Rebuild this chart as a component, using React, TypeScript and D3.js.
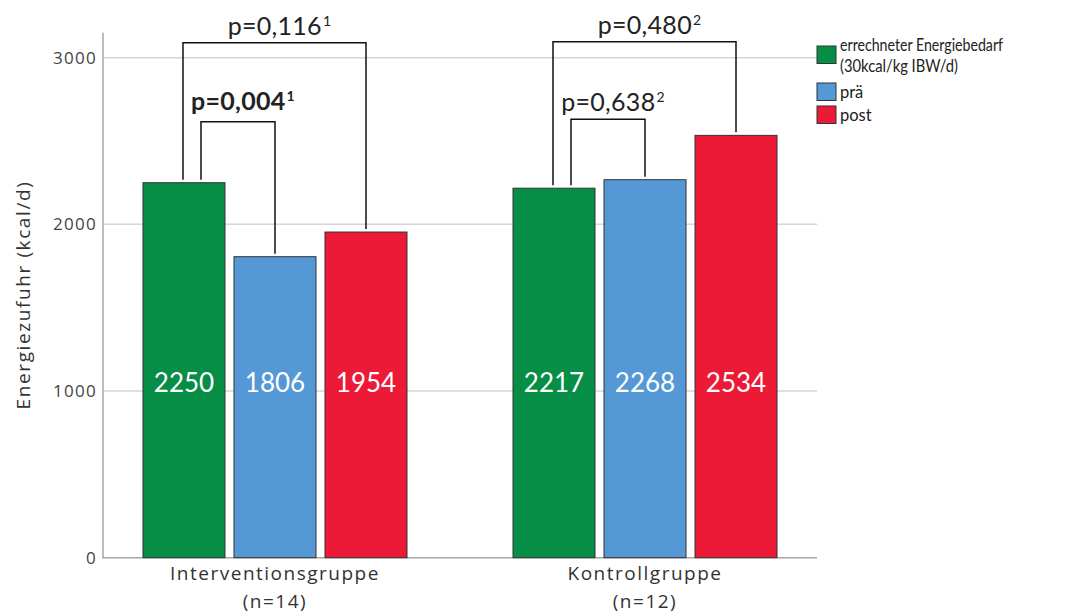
import React from "react";
import * as d3 from "d3";

const categories = ["Interventionsgruppe", "Kontrollgruppe"];
const categoryN = ["(n=14)", "(n=12)"];
const seriesNames = ["errechneter Energiebedarf", "prä", "post"];
const seriesSub = ["(30kcal/kg IBW/d)", "", ""];
const energiebedarf = [2250, 2217];
const prae = [1806, 2268];
const post = [1954, 2534];
const yTicks = [0, 1000, 2000, 3000];
const yTitle = "Energiezufuhr (kcal/d)";

// comparisons: group index, from series, to series, p-value text, superscript, bold
const compGroup = [0, 0, 1, 1];
const compFrom = [0, 0, 0, 0];
const compTo = [2, 1, 2, 1];
const compLabel = ["p=0,116", "p=0,004", "p=0,480", "p=0,638"];
const compSup = ["1", "1", "2", "2"];
const compBold = [false, true, false, false];
const compLevel = [3090, 2615, 3095, 2630];

const colors = ["#078e46", "#5499d5", "#ec1a37"];

const W = 1071;
const H = 613;

export default function App() {
  const values = [energiebedarf, prae, post];
  const y = d3.scaleLinear().domain([0, 3150]).range([557.7, 32.7]);
  const x0 = d3
    .scaleBand<string>()
    .domain(categories)
    .range([90, 830])
    .paddingInner(0.2865)
    .paddingOuter(0.1432);
  const x1 = d3
    .scaleBand<number>()
    .domain([0, 1, 2])
    .range([0, x0.bandwidth()])
    .paddingInner(0.099)
    .paddingOuter(0);

  const axisX = 103;
  const plotRight = 817;
  const sans = "'Open Sans', sans-serif";
  const lato = "Lato, 'Open Sans', sans-serif";

  const barCenter = (g: number, s: number) =>
    (x0(categories[g]) as number) + (x1(s) as number) + x1.bandwidth() / 2;

  return (
    <svg
      width={W}
      height={H}
      style={{ position: "absolute", left: 0, top: 0, background: "#fff" }}
    >
      {/* gridlines */}
      {yTicks.map((t) => (
        <line
          key={"g" + t}
          x1={axisX}
          x2={plotRight}
          y1={y(t)}
          y2={y(t)}
          stroke={t === 0 ? "#a6a6a6" : "#d6d6d6"}
          strokeWidth={1.5}
        />
      ))}
      {/* y axis */}
      <line x1={axisX} x2={axisX} y1={y(3150)} y2={y(0) + 0.75} stroke="#a6a6a6" strokeWidth={1.5} />
      {yTicks.map((t) => (
        <text
          key={"t" + t}
          x={97}
          y={y(t)}
          dy="0.35em"
          textAnchor="end"
          fontFamily={sans}
          fontSize={17}
          letterSpacing={1.3}
          fill="#444"
        >
          {t}
        </text>
      ))}
      <text
        transform={`translate(23, 295) rotate(-90)`}
        dy="0.35em"
        textAnchor="middle"
        fontFamily={sans}
        fontSize={19}
        letterSpacing={1.6}
        fill="#333"
      >
        {yTitle}
      </text>

      {/* bars */}
      {categories.map((c, gi) => (
        <g key={c} transform={`translate(${x0(c)},0)`}>
          {values.map((vals, si) => (
            <g key={si}>
              <rect
                x={x1(si)}
                y={y(vals[gi])}
                width={x1.bandwidth()}
                height={y(0) - y(vals[gi])}
                fill={colors[si]}
                stroke="#333"
                strokeWidth={1}
              />
              <text
                x={(x1(si) as number) + x1.bandwidth() / 2}
                y={y(1050)}
                dy="0.35em"
                textAnchor="middle"
                fontFamily={lato}
                fontSize={26}
                fill="#fff"
              >
                {vals[gi]}
              </text>
            </g>
          ))}
          <text
            x={x0.bandwidth() / 2}
            y={580}
            textAnchor="middle"
            fontFamily={sans}
            fontSize={19}
            letterSpacing={1.5}
            fill="#333"
          >
            {c}
          </text>
          <text
            x={x0.bandwidth() / 2}
            y={608}
            textAnchor="middle"
            fontFamily={sans}
            fontSize={19}
            letterSpacing={1.5}
            fill="#333"
          >
            {categoryN[gi]}
          </text>
        </g>
      ))}

      {/* comparison brackets */}
      {compLabel.map((lab, i) => {
        const g = compGroup[i];
        const outer = compTo[i] === 2;
        const xl = barCenter(g, compFrom[i]) + (outer ? -1 : 17);
        const xr = barCenter(g, compTo[i]);
        const yl = y(values[compFrom[i]][g]) - 3;
        const yr = y(values[compTo[i]][g]) - 3;
        const yh = y(compLevel[i]);
        const cx = (xl + xr) / 2;
        return (
          <g key={"c" + i}>
            <path
              d={`M${xl},${yl}V${yh}H${xr}V${yr}`}
              fill="none"
              stroke="#111"
              strokeWidth={1.5}
            />
            <text
              x={cx + 5}
              y={yh - (compBold[i] ? 12 : 8)}
              textAnchor="middle"
              fontFamily={lato}
              fontSize={25}
              letterSpacing={0.3}
              fontWeight={compBold[i] ? 700 : 400}
              fill="#222"
            >
              {lab}
              <tspan dx={1} dy={-9} fontSize={14}>
                {compSup[i]}
              </tspan>
            </text>
          </g>
        );
      })}

      {/* legend */}
      {seriesNames.map((s, i) => {
        const ys = [46, 83, 106][i];
        return (
          <g key={"l" + i}>
            <rect x={817} y={ys} width={19} height={17.5} fill={colors[i]} stroke="#333" strokeWidth={1} />
            <text
              x={840}
              y={i === 0 ? 45 : ys + 9}
              dy="0.35em"
              fontFamily={lato}
              fontSize={16.5}
              textLength={i === 0 ? 163 : undefined}
              lengthAdjust="spacingAndGlyphs"
              fill="#222"
            >
              {s}
            </text>
            {seriesSub[i] && (
              <text
                x={840}
                y={66}
                dy="0.35em"
                fontFamily={lato}
                fontSize={16.5}
                textLength={118}
                lengthAdjust="spacingAndGlyphs"
                fill="#222"
              >
                {seriesSub[i]}
              </text>
            )}
          </g>
        );
      })}
    </svg>
  );
}
